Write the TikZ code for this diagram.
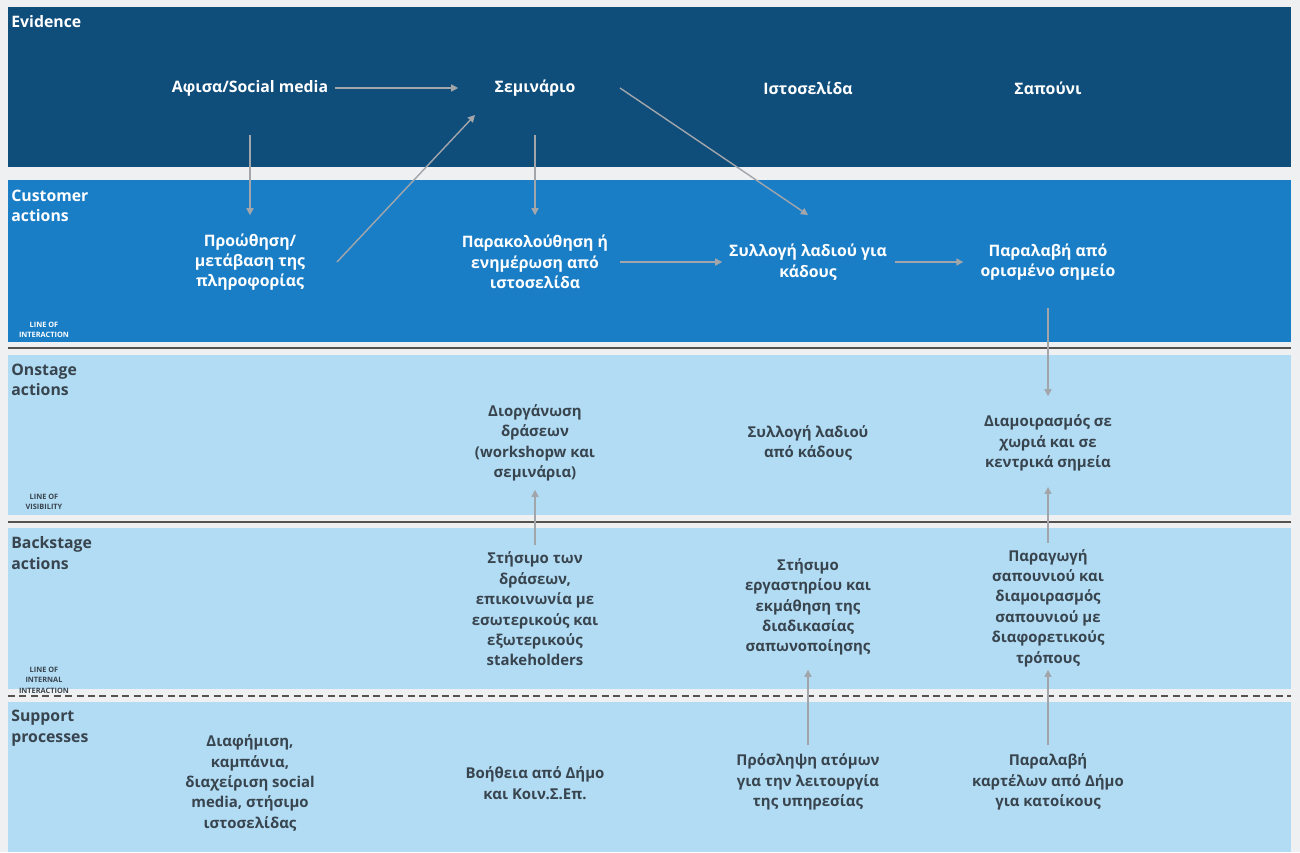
\documentclass[tikz,border=0pt]{standalone}
\usepackage{fontspec}
\setmainfont{Open Sans}
\usetikzlibrary{arrows.meta}

\definecolor{pagebg}{HTML}{EEF0F2}
\definecolor{evid}{HTML}{0F4D7B}
\definecolor{cust}{HTML}{1A7EC7}
\definecolor{lane}{HTML}{B2DCF4}
\definecolor{ink}{HTML}{38444E}
\definecolor{flow}{HTML}{A2A6AA}
\definecolor{rule}{HTML}{57524E}

\tikzstyle{rowhead} = [font=\bfseries\fontsize{9}{11.6}\selectfont, align=left, anchor=west, inner sep=0pt]
\tikzstyle{topbox} = [font=\bfseries\fontsize{9}{11.6}\selectfont, text=white, align=center]
\tikzstyle{lowbox} = [font=\bfseries\fontsize{8.5}{11.6}\selectfont, text=ink, align=center]
\tikzstyle{tiny} = [font=\bfseries\fontsize{4.2}{6}\selectfont, align=center, inner sep=0pt]
\tikzstyle{arrow} = [line width=0.8pt, draw=flow, -{Triangle[length=4pt,width=4pt]}]

\begin{document}
\begin{tikzpicture}[x=0.02cm, y=-0.02cm]
    \fill [pagebg] (0,0) rectangle (1300,852);
    \fill [evid] (8,7) rectangle (1291,167);
    \fill [cust] (8,180) rectangle (1291,342);
    \fill [lane] (8,355) rectangle (1291,515);
    \fill [lane] (8,528) rectangle (1291,689);
    \fill [lane] (8,702) rectangle (1291,852);
    \draw [rule, line width=1.2pt] (8,348) -- (1291,348);
    \draw [rule, line width=1.2pt] (8,522) -- (1291,522);
    \draw [rule, line width=1pt, dash pattern=on 4pt off 2.5pt] (8,696) -- (1291,696);

    \node (h1) [rowhead, text=white] at (11,22) {Evidence};
    \node (h2) [rowhead, text=white] at (11,206) {Customer\\actions};
    \node (h3) [rowhead, text=ink] at (11,380) {Onstage\\actions};
    \node (h4) [rowhead, text=ink] at (11,553) {Backstage\\actions};
    \node (h5) [rowhead, text=ink] at (11,728) {Support\\processes};
    \node (l1) [tiny, text=white] at (44,330) {LINE OF\\INTERACTION};
    \node (l2) [tiny, text=ink] at (44,502) {LINE OF\\VISIBILITY};
    \node (l3) [tiny, text=ink] at (44,680) {LINE OF\\INTERNAL\\INTERACTION};

    \node (ev1) [topbox] at (250,88) {Αφισα/Social media};
    \node (ev2) [topbox] at (535,88) {Σεμινάριο};
    \node (ev3) [topbox] at (808,88) {Ιστοσελίδα};
    \node (ev4) [topbox] at (1048,88) {Σαπούνι};
    \node (ca1) [topbox] at (250,262) {Προώθηση/\\μετάβαση της\\πληροφορίας};
    \node (ca2) [topbox] at (535,262) {Παρακολούθηση ή\\ενημέρωση από\\ιστοσελίδα};
    \node (ca3) [topbox] at (808,262) {Συλλογή λαδιού για\\κάδους};
    \node (ca4) [topbox] at (1048,262) {Παραλαβή από\\ορισμένο σημείο};
    \node (on2) [lowbox] at (535,443) {Διοργάνωση\\δράσεων\\(workshopw και\\σεμινάρια)};
    \node (on3) [lowbox] at (808,443) {Συλλογή λαδιού\\από κάδους};
    \node (on4) [lowbox] at (1048,443) {Διαμοιρασμός σε\\χωριά και σε\\κεντρικά σημεία};
    \node (bs2) [lowbox] at (535,609) {Στήσιμο των\\δράσεων,\\επικοινωνία με\\εσωτερικούς και\\εξωτερικούς\\stakeholders};
    \node (bs3) [lowbox] at (808,607) {Στήσιμο\\εργαστηρίου και\\εκμάθηση της\\διαδικασίας\\σαπωνοποίησης};
    \node (bs4) [lowbox] at (1048,608) {Παραγωγή\\σαπουνιού και\\διαμοιρασμός\\σαπουνιού με\\διαφορετικούς\\τρόπους};
    \node (sp1) [lowbox] at (250,783) {Διαφήμιση,\\καμπάνια,\\διαχείριση social\\media, στήσιμο\\ιστοσελίδας};
    \node (sp2) [lowbox] at (535,783) {Βοήθεια από Δήμο\\και Κοιν.Σ.Επ.};
    \node (sp3) [lowbox] at (808,782) {Πρόσληψη ατόμων\\για την λειτουργία\\της υπηρεσίας};
    \node (sp4) [lowbox] at (1048,782) {Παραλαβή\\καρτέλων από Δήμο\\για κατοίκους};

    \draw [arrow, shorten <=48.2pt, shorten >=43.7pt] (ev1.center) -- (ev2.center);
    \draw [arrow, shorten <=26.6pt, shorten >=26.6pt] (ev1.center) -- (ca1.center);
    \draw [arrow] ([xshift=1.74cm]ca1.center) -- ([xshift=-1.2cm,yshift=-0.54cm]ev2.center);
    \draw [arrow, shorten <=26.6pt, shorten >=26.6pt] (ev2.center) -- (ca2.center);
    \draw [arrow] ([xshift=1.7cm]ev2.center) -- ([yshift=0.94cm]ca3.center);
    \draw [arrow, shorten <=48.2pt, shorten >=48.8pt] (ca2.center) -- (ca3.center);
    \draw [arrow, shorten <=49.3pt, shorten >=48.2pt] (ca3.center) -- (ca4.center);
    \draw [arrow, shorten <=26pt, shorten >=26.6pt] (ca4.center) -- (on4.center);
    \draw [arrow, shorten <=36.3pt, shorten >=26.6pt] (bs2.center) -- (on2.center);
    \draw [arrow, shorten <=36.9pt, shorten >=25pt] (bs4.center) -- (on4.center);
    \draw [arrow, shorten <=21pt, shorten >=35.7pt] (sp3.center) -- (bs3.center);
    \draw [arrow, shorten <=21pt, shorten >=35.2pt] (sp4.center) -- (bs4.center);
\end{tikzpicture}
\end{document}
